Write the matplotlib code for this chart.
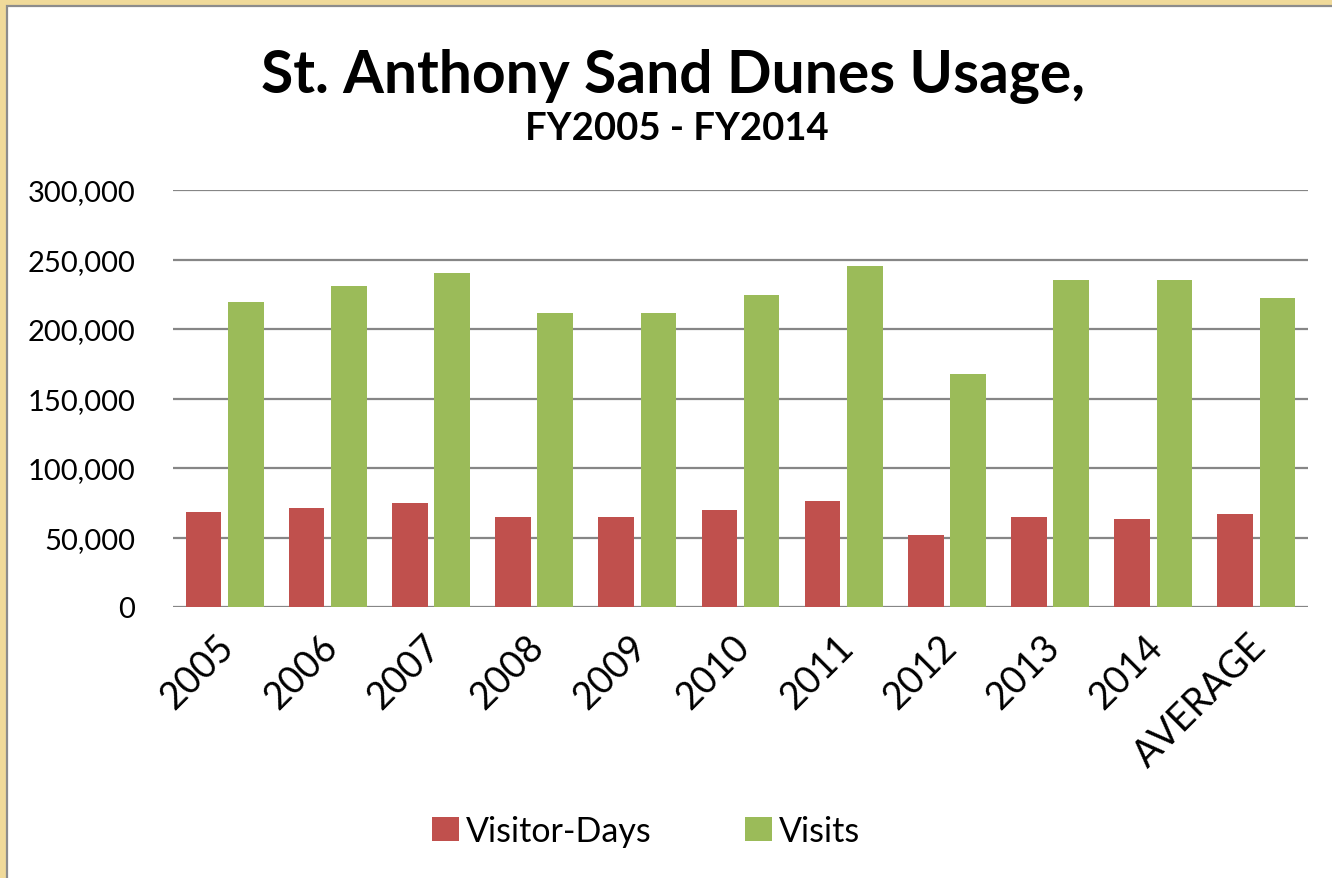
#!/usr/bin/env python3
"""St. Anthony Sand Dunes usage, FY2005 - FY2014."""

import matplotlib
matplotlib.use("Agg")
import matplotlib.pyplot as plt
import matplotlib.transforms as mtransforms
import numpy as np
from matplotlib.patches import Rectangle
from matplotlib.ticker import FuncFormatter

categories = ["2005", "2006", "2007", "2008", "2009", "2010",
              "2011", "2012", "2013", "2014", "AVERAGE"]
visitor_days = [68100, 71200, 74600, 65000, 65000, 69500,
                76000, 52000, 65000, 63300, 66700]
visits = [219200, 230700, 240300, 211500, 211500, 224200,
          245300, 167900, 235500, 235500, 222500]

RED = "#C0504D"
GREEN = "#9BBB59"
GRID = "#868686"

plt.rcParams["font.family"] = ["Lato", "DejaVu Sans"]

fig = plt.figure(figsize=(13.32, 8.79), dpi=100)
fig.patch.set_facecolor("#F0DA9A")
# white chart area with grey frame line
fig.patches.append(Rectangle((7 / 1332, -0.01), 1.0, 1 - 7 / 879 + 0.01,
                             transform=fig.transFigure, facecolor="white",
                             edgecolor="#8C8C8C", linewidth=1.6, zorder=-10))

ax = fig.add_axes([173 / 1332, 1 - 608 / 879, (1308 - 173) / 1332, (608 - 191) / 879])
ax.set_facecolor("none")

x = np.arange(len(categories))
w = 0.345
off = 0.205
ax.bar(x - off, visitor_days, w, color=RED, label="Visitor-Days", zorder=3)
ax.bar(x + off, visits, w, color=GREEN, label="Visits", zorder=3)

ax.set_xlim(-0.5, len(categories) - 0.5)
ax.set_ylim(0, 300000)
ax.set_yticks(np.arange(0, 300001, 50000))
ax.yaxis.set_major_formatter(FuncFormatter(lambda v, _: f"{int(v):,}"))
ax.yaxis.grid(True, color=GRID, linewidth=1.6, zorder=0)
ax.set_axisbelow(True)
for s in ax.spines.values():
    s.set_visible(False)
ax.tick_params(axis="y", length=0, pad=27, labelsize=21)
ax.tick_params(axis="x", length=0, pad=12, labelsize=27)

ax.set_xticks(x)
ax.set_xticklabels(categories, rotation=45, ha="right", rotation_mode="anchor")
shift = mtransforms.ScaledTranslation(-9 / 100, -4 / 100, fig.dpi_scale_trans)
for lbl in ax.get_xticklabels():
    lbl.set_transform(lbl.get_transform() + shift)

fig.text(0.505, 1 - 93 / 879, "St. Anthony Sand Dunes Usage,", ha="center",
         va="baseline", fontsize=42.3, fontweight="bold")
fig.text(0.508, 1 - 140 / 879, "FY2005 - FY2014", ha="center",
         va="baseline", fontsize=27.5, fontweight="bold")

fig.legend(loc="center", bbox_to_anchor=(646 / 1332, 1 - 832 / 879), ncol=2,
           frameon=False, fontsize=24.5, handlelength=0.8, handleheight=0.7,
           handletextpad=0.2, columnspacing=2.75)

fig.savefig("out.png", dpi=100, facecolor=fig.get_facecolor())
